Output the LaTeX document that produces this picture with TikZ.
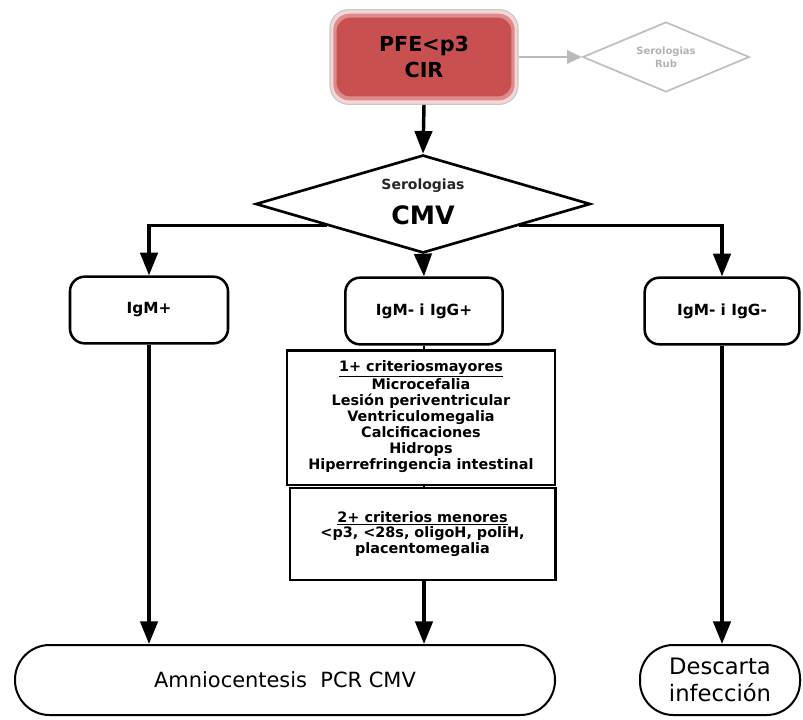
\documentclass[tikz,border=0pt]{standalone}
\usepackage{fontspec}
\setmainfont{DejaVu Sans}
\usetikzlibrary{shapes.geometric,arrows.meta,calc}
\definecolor{topred}{RGB}{200,80,80}
\definecolor{glow}{RGB}{244,214,214}
\begin{document}
\begin{tikzpicture}[x=0.75pt,y=-0.75pt,
 box/.style={draw=black, line width=1.9pt, rounded corners=11pt, fill=white, minimum height=50pt, font=\bfseries\fontsize{11.5}{13}\selectfont},
 critbox/.style={draw=black, line width=2pt, align=center, inner sep=0pt, font=\bfseries\fontsize{10.8}{11.9}\selectfont},
 term/.style={draw=black, line width=1.5pt, fill=white, minimum height=52.5pt, align=center},
 arr/.style={line width=2.6pt, -{Triangle[length=17pt,width=13pt]}}]
\useasboundingbox (0,0) rectangle (803,719);

% top box with glow
\node[draw=gray!45, line width=0.8pt, fill=glow, rounded corners=14pt, minimum width=141pt, minimum height=71pt] (top) at (424,57) {};
\node[fill=topred!55!glow, rounded corners=12pt, minimum width=136pt, minimum height=65pt] (topmid) at (424,57) {};
\node[fill=topred, rounded corners=10pt, minimum width=131pt, minimum height=59pt, align=center, font=\bfseries\fontsize{15.5}{20}\selectfont] (topin) at (424,57) {PFE<p3\\CIR};

% rubella diamond
\node[diamond, draw=gray!50, line width=1.3pt, aspect=2.4, minimum width=125pt, minimum height=52.5pt, inner sep=0pt, font=\bfseries\fontsize{7.5}{10}\selectfont, text=gray!60, align=center] (rub) at (666,57) {Serologias\\Rub};
\draw[gray!55, line width=1.5pt, -{Triangle[length=11pt,width=10pt]}] (top.east) -- (rub.west);

% CMV diamond
\node[diamond, draw=black, line width=2pt, aspect=3.4, minimum width=251pt, minimum height=73.5pt, inner sep=0pt] (cmv) at (423,204) {};
\node[font=\bfseries\fontsize{10.5}{12}\selectfont, text=black!85] (sero) at (423,186) {Serologias};
\node[font=\bfseries\fontsize{19}{22}\selectfont] (cmvt) at (423,215) {CMV};
\draw[arr] (top.south) -- (cmv.north);
\coordinate (bl) at ($(cmv.west)!0.43!(cmv.south)$);
\coordinate (br) at ($(cmv.east)!0.43!(cmv.south)$);

% second row
\node[box, minimum width=118.5pt] (igmp) at (149,310) {IgM+};
\node[box, minimum width=118pt] (igmg) at (424,311) {IgM- i IgG+};
\node[box, minimum width=116pt] (igmn) at (722,311) {IgM- i IgG-};

\draw[arr] (bl) -| (igmp.north);
\draw[arr] (br) -| (igmn.north);
\draw[arr] (cmv.south) -- (igmg.north);

% criteria boxes
\node[critbox, minimum width=201pt, minimum height=101pt, text depth=4pt] (crit1) at (421,417.5)
 {\underline{1+ criteriosmayores}\\Microcefalia\\Lesión periventricular\\Ventriculomegalia\\Calcificaciones\\Hidrops\\Hiperrefringencia intestinal};
\node[critbox, minimum width=199pt, minimum height=69pt] (crit2) at (422.5,534)
 {\underline{2+ criterios menores}\\<p3, <28s, oligoH, poliH,\\placentomegalia};
\draw[line width=2pt] (igmg.south) -- (igmg.south |- crit1.north);
\draw[line width=2pt] (igmg.south |- crit1.south) -- (igmg.south |- crit2.north);

% bottom
\node[term, minimum width=405pt, rounded corners=26pt, font=\fontsize{15.7}{19}\selectfont] (amnio) at (285,680) {Amniocentesis\ \ PCR CMV};
\node[term, minimum width=120pt, rounded corners=25pt, font=\fontsize{17}{20}\selectfont] (desc) at (720,680) {Descarta\\infección};

\draw[arr] (igmp.south) -- (igmp.south |- amnio.north);
\draw[arr] (igmg.south |- crit2.south) -- (igmg.south |- amnio.north);
\draw[arr] (igmn.south) -- (igmn.south |- desc.north);
\end{tikzpicture}
\end{document}
